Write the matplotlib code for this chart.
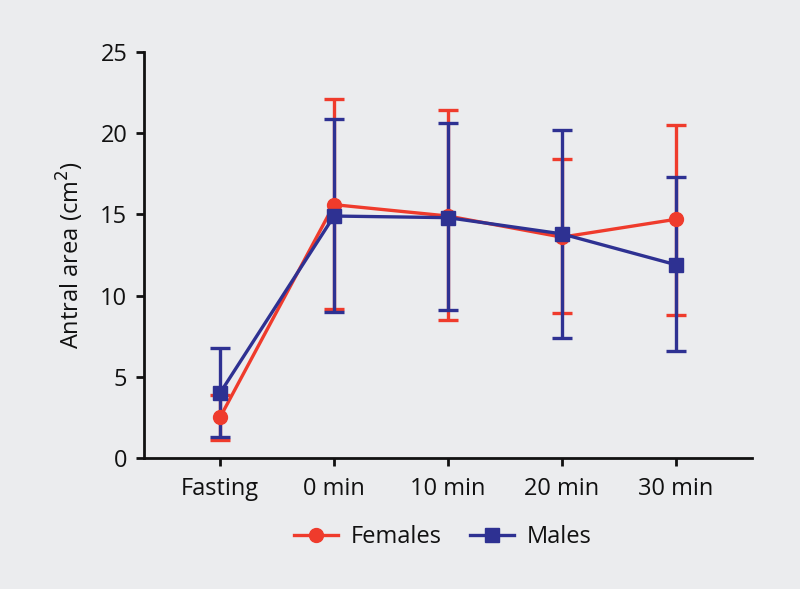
import matplotlib
matplotlib.use("Agg")
import matplotlib.pyplot as plt
from matplotlib.lines import Line2D
import numpy as np

categories = ["Fasting", "0 min", "10 min", "20 min", "30 min"]
females_mean = [2.5, 15.6, 14.9, 13.6, 14.7]
females_upper = [3.9, 22.1, 21.4, 18.4, 20.5]
females_lower = [1.1, 9.2, 8.5, 8.9, 8.8]
males_mean = [4.0, 14.9, 14.8, 13.8, 11.9]
males_upper = [6.8, 20.9, 20.6, 20.2, 17.3]
males_lower = [1.3, 9.0, 9.1, 7.4, 6.6]
yticks = [0, 5, 10, 15, 20, 25]

plt.rcParams['font.family'] = ['Open Sans', 'DejaVu Sans']
bg = "#ebecee"
red = "#ef3b2c"
blue = "#2e3192"
txt = "#111111"

fig = plt.figure(figsize=(8, 5.89), dpi=100, facecolor=bg)
ax = fig.add_axes([0.18, 0.2224, 0.76, 0.6893], facecolor=bg)

x = np.arange(len(categories))
handles = []
for mean, up, lo, col, mk, lab in [
    (females_mean, females_upper, females_lower, red, "o", "Females"),
    (males_mean, males_upper, males_lower, blue, "s", "Males"),
]:
    mean = np.array(mean); up = np.array(up); lo = np.array(lo)
    ax.errorbar(x, mean, yerr=[mean - lo, up - mean], color=col, marker=mk,
                markersize=10, linewidth=2.4, elinewidth=2.4, capsize=7,
                capthick=2.4)
    handles.append(Line2D([], [], color=col, marker=mk, markersize=10,
                          linewidth=2.4, label=lab))

ax.set_xlim(-0.667, 4.667)
ax.set_ylim(0, 25)
ax.set_yticks(yticks)
ax.set_xticks(x)
ax.set_xticklabels(categories)
ax.tick_params(axis='both', labelsize=17, width=2, length=6, color=txt,
               labelcolor=txt)
ax.tick_params(axis='y', pad=6)
ax.tick_params(axis='x', pad=8)
for s in ["top", "right"]:
    ax.spines[s].set_visible(False)
for s in ["left", "bottom"]:
    ax.spines[s].set_linewidth(2)
    ax.spines[s].set_color(txt)
ax.set_ylabel("Antral area (cm$^2$)", fontsize=17, color=txt, labelpad=10)

leg = fig.legend(handles=handles, loc="center", bbox_to_anchor=(0.553, 0.088),
                 ncol=2, frameon=False, fontsize=17, handlelength=1.9,
                 columnspacing=1.2, handletextpad=0.5)
for t in leg.get_texts():
    t.set_color(txt)

fig.savefig("out.png", dpi=100, facecolor=bg)
